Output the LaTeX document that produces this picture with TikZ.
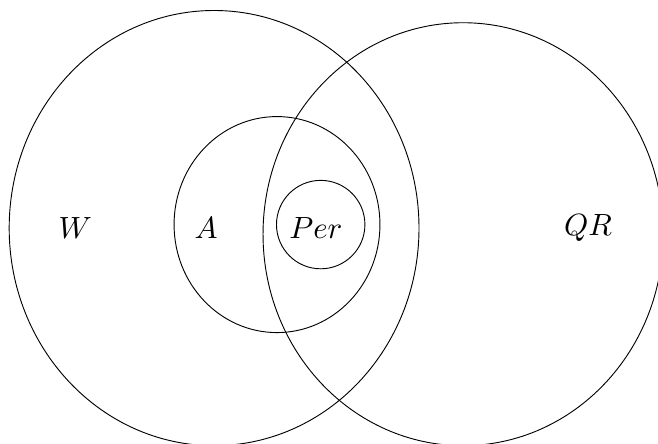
\documentclass[tikz,border=0pt]{standalone}
\usepackage{amsmath, amssymb}
\usepackage{tikz}
\usetikzlibrary{positioning}

\begin{document}
\begin{tikzpicture}[line width=0.3pt, set/.style={font=\normalsize}]
\useasboundingbox (0,0) rectangle (7.53,5.07);
\clip (0,0) rectangle (7.53,5.07);
\draw (2.45,2.46) ellipse [x radius=2.345, y radius=2.49];
\draw (5.30,2.39) ellipse [x radius=2.29, y radius=2.42];
\draw (3.17,2.50) ellipse [x radius=1.178, y radius=1.236];
\draw (3.67,2.50) circle (0.506);
\node[set] (w) at (0.86,2.46) {$W$};
\node[set] (a) at (2.36,2.46) {$A$};
\node[set] (per) at (3.615,2.46) {$Per$};
\node[set] (qr) at (6.73,2.46) {$QR$};
\end{tikzpicture}
\end{document}
